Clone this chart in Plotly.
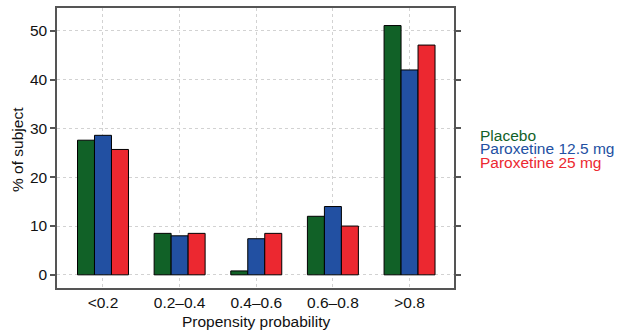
import plotly.graph_objects as go

categories = ["<0.2", "0.2\u20130.4", "0.4\u20130.6", "0.6\u20130.8", ">0.8"]
series_names = ["Placebo", "Paroxetine 12.5 mg", "Paroxetine 25 mg"]
placebo = [27.6, 8.5, 0.8, 12.0, 51.1]
parox_12_5 = [28.6, 8.0, 7.4, 14.0, 42.0]
parox_25 = [25.7, 8.5, 8.5, 10.0, 47.1]
colors = ["#116127", "#2250A2", "#EC2830"]
x_title = "Propensity probability"
y_title = "% of subject"

W, H = 617, 330
L, R, T, B = 57, 163, 8, 42
pw, ph = W - L - R, H - T - B

fig = go.Figure()
for name, vals, col in zip(series_names, [placebo, parox_12_5, parox_25], colors):
    fig.add_trace(go.Bar(x=categories, y=vals, name=name,
                         marker=dict(color=col, line=dict(color="black", width=1)),
                         showlegend=False))

font = "Liberation Sans, Arial, Helvetica, sans-serif"
fs = 15.5
fig.update_layout(
    width=W, height=H,
    margin=dict(l=L, r=R, t=T, b=B),
    paper_bgcolor="white", plot_bgcolor="white",
    barmode="group", bargap=0.335, bargroupgap=0,
    font=dict(family=font, size=fs, color="#111"),
)
fig.update_xaxes(
    range=[-0.6, 4.58], showline=True, linecolor="#555", linewidth=1.5, mirror=True,
    showgrid=True, gridcolor="#d2d2d2", griddash="dot", gridwidth=1,
    ticks="", tickfont=dict(size=fs), automargin=False, ticklabelstandoff=0,
)
fig.update_yaxes(
    range=[-2.7, 54.7], tickvals=[0, 10, 20, 30, 40, 50],
    showline=True, linecolor="#555", linewidth=1.5, mirror="ticks",
    ticks="outside", ticklen=5, tickcolor="#555", tickwidth=1.5,
    showgrid=True, gridcolor="#d2d2d2", griddash="dot", gridwidth=1, zeroline=False,
    tickfont=dict(size=fs), automargin=False,
)
# axis titles
fig.add_annotation(text=x_title, xref="paper", yref="paper", x=0.5, xanchor="center",
                   y=(H - B - 321) / ph, yanchor="middle", showarrow=False,
                   font=dict(size=fs, family=font, color="#111"))
fig.add_annotation(text=y_title, xref="paper", yref="paper", x=(17 - L) / pw, xanchor="center",
                   y=(H - B - 150) / ph, yanchor="middle", textangle=-90, showarrow=False,
                   font=dict(size=fs, family=font, color="#111"))
for i, (name, col) in enumerate(zip(series_names, colors)):
    fig.add_annotation(
        text=name, xref="paper", yref="paper", x=(478 - L) / pw, xanchor="left",
        y=(H - B - (135 + 13.5 * i)) / ph, yanchor="middle",
        showarrow=False, font=dict(color=col, size=fs, family=font),
    )

fig.write_html("out.html", config={"displayModeBar": False},
               post_script="document.body.style.margin='0';document.body.style.overflow='hidden';")
